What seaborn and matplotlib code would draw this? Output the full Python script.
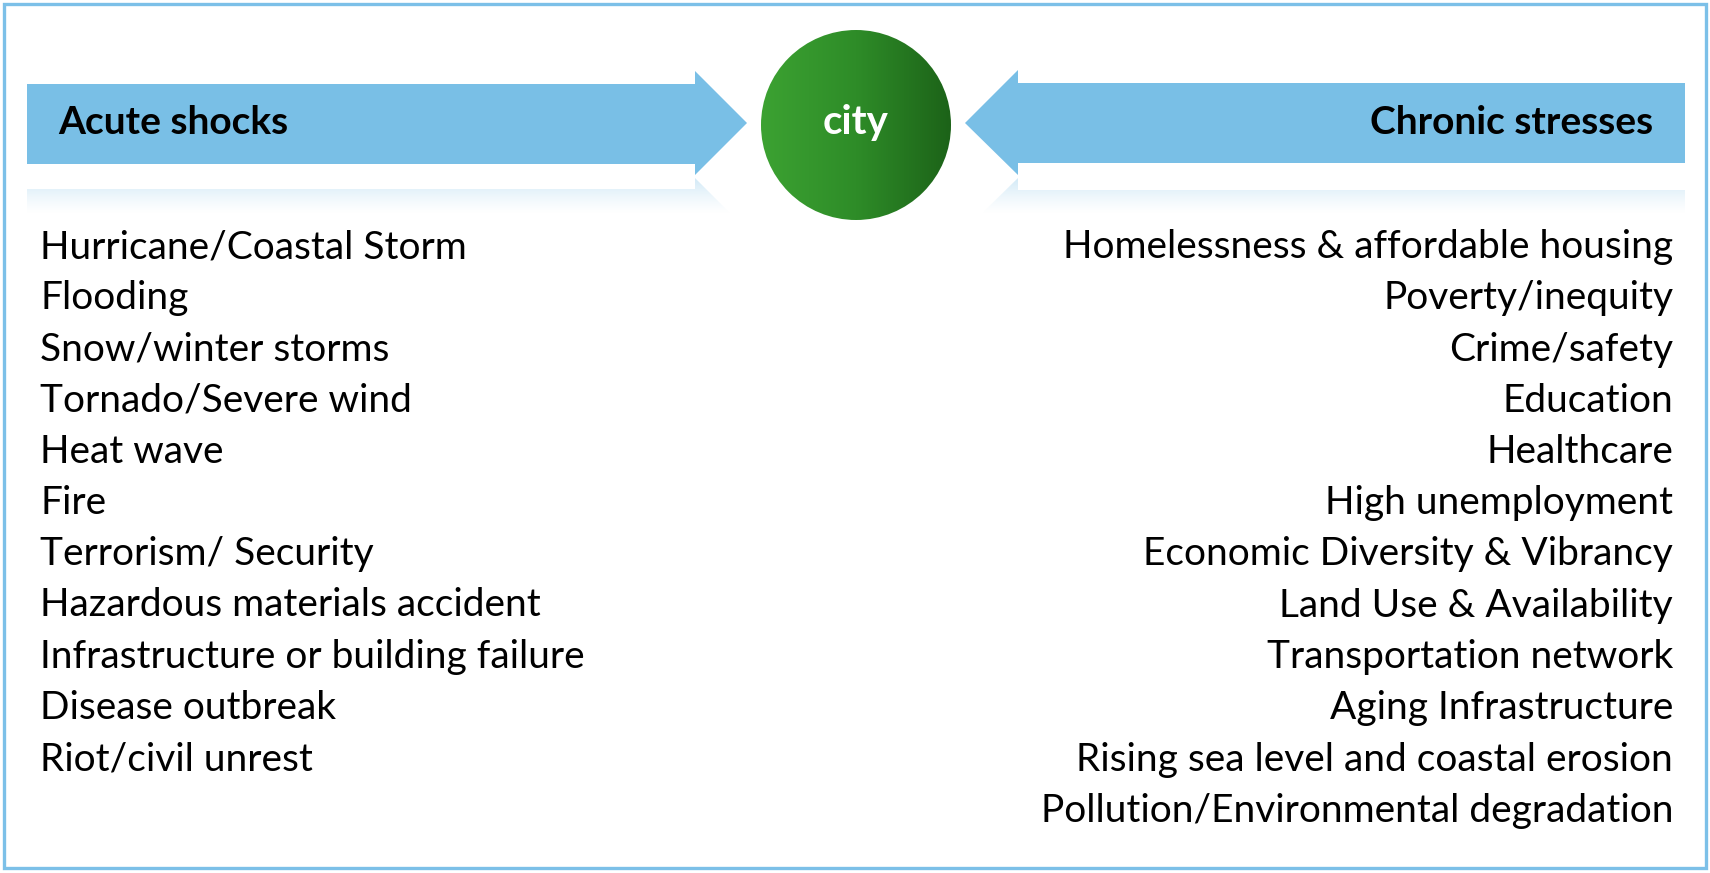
import numpy as np
import seaborn as sns
import matplotlib.pyplot as plt
from matplotlib.patches import Polygon, Circle, Rectangle

# Diagram content
center_label = "city"
left_title = "Acute shocks"
right_title = "Chronic stresses"
acute_shocks = ["Hurricane/Coastal Storm", "Flooding", "Snow/winter storms",
                "Tornado/Severe wind", "Heat wave", "Fire", "Terrorism/ Security",
                "Hazardous materials accident", "Infrastructure or building failure",
                "Disease outbreak", "Riot/civil unrest"]
chronic_stresses = ["Homelessness & affordable housing", "Poverty/inequity",
                    "Crime/safety", "Education", "Healthcare", "High unemployment",
                    "Economic Diversity & Vibrancy", "Land Use & Availability",
                    "Transportation network", "Aging Infrastructure",
                    "Rising sea level and coastal erosion",
                    "Pollution/Environmental degradation"]

sns.set_theme(style="white")
plt.rcParams['font.family'] = ['Lato', 'DejaVu Sans']

W, H = 1710, 873
blue = "#79bfe6"
fs = 28

fig = plt.figure(figsize=(W / 100, H / 100), dpi=100)
ax = fig.add_axes([0, 0, 1, 1])
ax.set_xlim(0, W)
ax.set_ylim(H, 0)
ax.axis("off")

# outer frame
ax.add_patch(Rectangle((4, 4), W - 8, H - 9, fill=False, edgecolor="#7cc0e8", lw=2.4))

# arrows
left_arrow = np.array([(27, 84), (695, 84), (695, 71), (747, 123), (695, 175), (695, 164), (27, 164)])
right_arrow = np.array([(1685, 83), (1018, 83), (1018, 70), (965, 123), (1018, 175), (1018, 163), (1685, 163)])

for pts in (left_arrow, right_arrow):
    ax.add_patch(Polygon(pts, closed=True, facecolor=blue, edgecolor="none"))
    # faded reflection under the arrow
    refl = pts.copy().astype(float)
    refl[:, 1] = 353 - refl[:, 1]
    poly = Polygon(refl, closed=True, facecolor="none", edgecolor="none")
    ax.add_patch(poly)
    grad = np.zeros((60, 2, 4))
    grad[..., 0], grad[..., 1], grad[..., 2] = 121 / 255, 191 / 255, 230 / 255
    a = np.linspace(0.45, 0.0, 60) ** 1.3
    grad[..., 3] = a[:, None]
    im = ax.imshow(grad, extent=(refl[:, 0].min(), refl[:, 0].max(), 214, 176),
                   aspect="auto", interpolation="bilinear", zorder=1)
    im.set_clip_path(poly)

# gradient circle
cx, cy, r = 856, 125, 95
g = np.linspace(0, 1, 256)
c0 = np.array([60, 162, 50]) / 255
c1 = np.array([46, 140, 40]) / 255
c2 = np.array([28, 98, 24]) / 255
cols = np.where(g[:, None] < 0.5, c0 + (c1 - c0) * (g[:, None] / 0.5),
                c1 + (c2 - c1) * ((g[:, None] - 0.5) / 0.5))
img = np.tile(cols[None, :, :], (2, 1, 1))
circ = Circle((cx, cy), r, facecolor="none", edgecolor="none")
ax.add_patch(circ)
im = ax.imshow(img, extent=(cx - r, cx + r, cy + r, cy - r), aspect="auto",
               interpolation="bilinear", zorder=2)
im.set_clip_path(circ)
ax.set_xlim(0, W)
ax.set_ylim(H, 0)

ax.text(cx, 134, center_label, color="white", fontsize=fs + 1, fontweight="bold",
        ha="center", va="baseline", zorder=3)

# headings
ax.text(58, 134, left_title, fontsize=fs, fontweight="bold", color="black",
        ha="left", va="baseline", zorder=3)
ax.text(1653, 134, right_title, fontsize=fs, fontweight="bold", color="black",
        ha="right", va="baseline", zorder=3)

# lists
for i, s in enumerate(acute_shocks):
    ax.text(40, 258 + i * 51.2, s, fontsize=fs, color="black", ha="left", va="baseline")
for i, s in enumerate(chronic_stresses):
    ax.text(1673, 258 + i * 51.25, s, fontsize=fs, color="black", ha="right", va="baseline")

fig.savefig("out.png", dpi=100)
